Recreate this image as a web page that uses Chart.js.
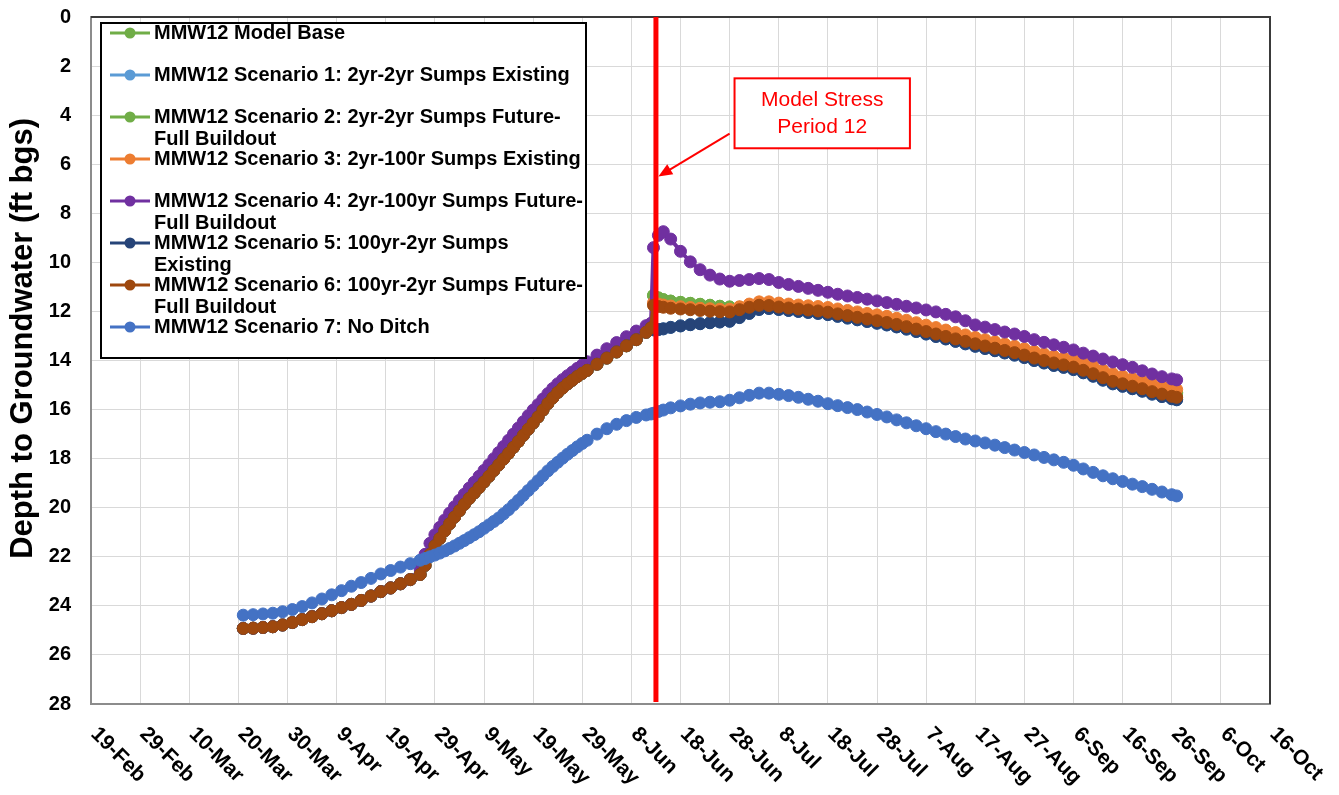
<!DOCTYPE html>
<html>
<head>
<meta charset="utf-8">
<title>MMW12 Depth to Groundwater</title>
<script src="https://cdn.jsdelivr.net/npm/chart.js@4/dist/chart.umd.min.js"></script>
<style>
  html, body { margin: 0; padding: 0; background: #fff; }
  canvas { display: block; }
</style>
</head>
<body>
<canvas id="chart" width="1339" height="795"></canvas>
<script>
// x values are days after 19-Feb (2020, leap year)
const xTickLabels = ['19-Feb', '29-Feb', '10-Mar', '20-Mar', '30-Mar', '9-Apr', '19-Apr', '29-Apr',
  '9-May', '19-May', '29-May', '8-Jun', '18-Jun', '28-Jun', '8-Jul', '18-Jul', '28-Jul', '7-Aug',
  '17-Aug', '27-Aug', '6-Sep', '16-Sep', '26-Sep', '6-Oct', '16-Oct'];
const yTitle = 'Depth to Groundwater (ft bgs)';

const seriesNames = [
  ['MMW12 Model Base'],
  ['MMW12 Scenario 1: 2yr-2yr Sumps Existing'],
  ['MMW12 Scenario 2: 2yr-2yr Sumps Future-', 'Full Buildout'],
  ['MMW12 Scenario 3: 2yr-100r Sumps Existing'],
  ['MMW12 Scenario 4: 2yr-100yr Sumps Future-', 'Full Buildout'],
  ['MMW12 Scenario 5: 100yr-2yr Sumps', 'Existing'],
  ['MMW12 Scenario 6: 100yr-2yr Sumps Future-', 'Full Buildout'],
  ['MMW12 Scenario 7: No Ditch']
];
const seriesColors = ['#70AD47', '#5B9BD5', '#70AD47', '#ED7D31', '#7030A0', '#264478', '#9E480E', '#4472C4'];

// before stress period 12 (21-Mar .. 12-Jun)
const earlyDays = [31, 33, 35, 37, 39, 41, 43, 45, 47, 49, 51, 53, 55, 57, 59, 61, 63, 65, 67,
  68, 69, 70, 71, 72, 73, 74, 75, 76, 77, 78, 79, 80, 81, 82, 83, 84, 85, 86, 87, 88, 89, 90, 91, 92,
  93, 94, 95, 96, 97, 98, 99, 100, 101, 103, 105, 107, 109, 111, 113, 114];
// base, scenarios 1,2,3,5,6 share this part
const earlyShared = [24.92, 24.91, 24.88, 24.85, 24.78, 24.68, 24.56, 24.44, 24.32, 24.2, 24.07, 23.94,
  23.78, 23.6, 23.42, 23.27, 23.1, 22.93, 22.72,
  22.35, 21.9, 21.55, 21.25, 20.94, 20.65, 20.38, 20.12, 19.86, 19.62, 19.4, 19.18, 18.95, 18.72, 18.48,
  18.25, 18.01, 17.78, 17.54, 17.3, 17.05, 16.8, 16.55, 16.3, 16.02, 15.75, 15.52, 15.3, 15.12, 14.95,
  14.8, 14.65, 14.52,
  14.4, 14.15, 13.9, 13.65, 13.4, 13.15, 12.85, 12.67];
const earlyS4 = [24.92, 24.91, 24.88, 24.85, 24.78, 24.68, 24.56, 24.44, 24.32, 24.2, 24.07, 23.94,
  23.78, 23.6, 23.42, 23.27, 23.1, 22.93, 22.5,
  21.9, 21.45, 21.1, 20.8, 20.5, 20.22, 19.96, 19.7, 19.45, 19.2, 18.96, 18.72, 18.48, 18.25, 18.0,
  17.75, 17.5, 17.25, 17.0, 16.75, 16.5, 16.25, 16.02, 15.8, 15.57, 15.35, 15.14, 14.95, 14.78, 14.62,
  14.47, 14.32, 14.18,
  14.05, 13.78, 13.52, 13.27, 13.03, 12.8, 12.58, 12.48];
const earlyS7 = [24.38, 24.36, 24.33, 24.3, 24.24, 24.15, 24.03, 23.88, 23.72, 23.55, 23.38, 23.2,
  23.05, 22.88, 22.7, 22.56, 22.42, 22.28, 22.14,
  22.07, 22.0, 21.93, 21.85, 21.76, 21.66, 21.56, 21.45, 21.34, 21.22, 21.1, 20.98, 20.84, 20.7, 20.56,
  20.42, 20.25, 20.08, 19.89, 19.7, 19.5, 19.3, 19.1, 18.9, 18.7, 18.5, 18.32, 18.15, 17.98, 17.82,
  17.67, 17.52, 17.38,
  17.25, 17.0, 16.78, 16.6, 16.45, 16.32, 16.22, 16.18];

// after stress period 12 starts (12-Jun .. 27-Sep)
const lateDays = [114.5, 115.5, 116.5, 118, 120, 122, 124, 126, 128, 130, 132, 134, 136, 138, 140, 142,
  144, 146, 148, 150, 152, 154, 156, 158, 160, 162, 164, 166, 168, 170, 172, 174, 176, 178, 180, 182,
  184, 186, 188, 190, 192, 194, 196, 198, 200, 202, 204, 206, 208, 210, 212, 214, 216, 218, 220, 221];
// base and scenario 2 plot on top of each other
const lateGreen = [11.35, 11.45, 11.52, 11.58, 11.63, 11.67, 11.71, 11.75, 11.79, 11.82, 11.83, 11.76,
  11.68, 11.68, 11.74, 11.78, 11.82, 11.85, 11.88, 11.93, 12.0, 12.06, 12.12, 12.18, 12.25, 12.31, 12.39,
  12.47, 12.57, 12.67, 12.77, 12.87, 12.97, 13.07, 13.17, 13.26, 13.35, 13.44, 13.53, 13.63, 13.75, 13.85,
  13.95, 14.02, 14.1, 14.23, 14.37, 14.53, 14.67, 14.77, 14.87, 14.97, 15.09, 15.19, 15.28, 15.32];
const lateS3 = [11.65, 11.7, 11.74, 11.78, 11.81, 11.84, 11.87, 11.89, 11.91, 11.91, 11.81, 11.7, 11.61,
  11.61, 11.66, 11.7, 11.74, 11.77, 11.8, 11.84, 11.9, 11.96, 12.02, 12.08, 12.14, 12.2, 12.28, 12.36,
  12.46, 12.56, 12.66, 12.76, 12.86, 12.96, 13.06, 13.15, 13.24, 13.33, 13.42, 13.52, 13.63, 13.73, 13.83,
  13.9, 13.98, 14.1, 14.24, 14.4, 14.54, 14.64, 14.74, 14.84, 14.95, 15.05, 15.14, 15.18];
const lateS4 = [9.4, 8.9, 8.75, 9.05, 9.55, 9.98, 10.3, 10.52, 10.68, 10.77, 10.74, 10.7, 10.66, 10.7,
  10.82, 10.9, 10.98, 11.06, 11.14, 11.22, 11.3, 11.37, 11.43, 11.5, 11.57, 11.64, 11.71, 11.79, 11.86,
  11.94, 12.02, 12.12, 12.22, 12.38, 12.55, 12.64, 12.74, 12.84, 12.92, 13.02, 13.15, 13.26, 13.36, 13.46,
  13.57, 13.7, 13.82, 13.94, 14.06, 14.17, 14.28, 14.42, 14.55, 14.66, 14.75, 14.79];
// scenario 1 is hidden under scenario 5
const lateS5 = [12.75, 12.74, 12.71, 12.65, 12.59, 12.54, 12.5, 12.46, 12.43, 12.4, 12.25, 12.08, 11.92,
  11.88, 11.92, 11.96, 12.0, 12.04, 12.08, 12.13, 12.2, 12.27, 12.34, 12.41, 12.48, 12.55, 12.63, 12.72,
  12.82, 12.92, 13.02, 13.12, 13.22, 13.32, 13.42, 13.51, 13.6, 13.69, 13.78, 13.88, 14.0, 14.1, 14.2,
  14.28, 14.37, 14.5, 14.64, 14.8, 14.95, 15.05, 15.15, 15.25, 15.37, 15.47, 15.56, 15.6];
const lateS6 = [11.75, 11.8, 11.83, 11.87, 11.9, 11.93, 11.96, 11.99, 12.01, 12.02, 11.93, 11.83, 11.75,
  11.76, 11.82, 11.86, 11.9, 11.94, 11.98, 12.03, 12.1, 12.17, 12.24, 12.31, 12.38, 12.45, 12.53, 12.62,
  12.72, 12.82, 12.92, 13.02, 13.12, 13.22, 13.32, 13.41, 13.5, 13.59, 13.68, 13.78, 13.9, 14.0, 14.1,
  14.18, 14.27, 14.4, 14.54, 14.7, 14.85, 14.95, 15.05, 15.15, 15.27, 15.37, 15.46, 15.5];
const lateS7 = [16.15, 16.08, 16.02, 15.93, 15.85, 15.78, 15.73, 15.7, 15.68, 15.62, 15.52, 15.42, 15.33,
  15.33, 15.38, 15.43, 15.5, 15.58, 15.66, 15.76, 15.84, 15.92, 16.0, 16.1, 16.2, 16.3, 16.42, 16.54,
  16.66, 16.78, 16.9, 17.0, 17.1, 17.2, 17.28, 17.36, 17.45, 17.55, 17.65, 17.75, 17.85, 17.95, 18.05,
  18.15, 18.27, 18.42, 18.56, 18.7, 18.82, 18.93, 19.04, 19.14, 19.25, 19.36, 19.47, 19.52];

const stressPeriodDay = 115;
const callout = { leftDay: 131, rightDay: 166.7, topDepth: 2.5, bottomDepth: 5.35,
  arrowFrom: [130, 4.75], arrowTo: [115.5, 6.5], lines: ['Model Stress', 'Period 12'] };

const FONT = "'Liberation Sans', Arial, sans-serif";
const allDays = earlyDays.concat(lateDays);
const seriesValues = [
  earlyShared.concat(lateGreen),
  earlyShared.concat(lateS5),
  earlyShared.concat(lateGreen),
  earlyShared.concat(lateS3),
  earlyS4.concat(lateS4),
  earlyShared.concat(lateS5),
  earlyShared.concat(lateS6),
  earlyS7.concat(lateS7)
];

const datasets = seriesValues.map((vals, i) => ({
  label: seriesNames[i].join(' ').replace('- ', '-'),
  data: allDays.map((d, j) => ({ x: d, y: vals[j] })),
  borderColor: seriesColors[i],
  backgroundColor: seriesColors[i],
  pointBackgroundColor: seriesColors[i],
  pointBorderColor: seriesColors[i],
  borderWidth: 4,
  pointRadius: 6,
  pointBorderWidth: 1,
  tension: 0,
  order: seriesNames.length - 1 - i   // later series on top, like Excel
}));

const overlayPlugin = {
  id: 'overlay',
  afterDraw(chart) {
    const { ctx, chartArea: a, scales: { x, y } } = chart;
    ctx.save();

    // plot frame top/right
    ctx.strokeStyle = '#3a3a3a';
    ctx.lineWidth = 2;
    ctx.beginPath();
    ctx.moveTo(a.left, a.top);
    ctx.lineTo(a.right, a.top);
    ctx.lineTo(a.right, a.bottom);
    ctx.stroke();

    // y axis title
    ctx.fillStyle = '#000';
    ctx.font = 'bold 31px ' + FONT;
    ctx.textAlign = 'center';
    ctx.textBaseline = 'middle';
    ctx.save();
    ctx.translate(23, y.getPixelForValue(13.1));
    ctx.rotate(-Math.PI / 2);
    ctx.fillText(yTitle, 0, 0);
    ctx.restore();

    // rotated date labels
    ctx.font = 'bold 21px ' + FONT;
    ctx.textAlign = 'left';
    x.ticks.forEach((t, i) => {
      const px = x.getPixelForValue(t.value);
      ctx.save();
      ctx.translate(px + 3, a.bottom + 27);
      ctx.rotate(Math.PI / 4);
      ctx.fillText(xTickLabels[i] || '', 0, 0);
      ctx.restore();
    });

    // stress period line
    const sx = x.getPixelForValue(stressPeriodDay);
    ctx.strokeStyle = '#FF0000';
    ctx.lineWidth = 5;
    ctx.beginPath();
    ctx.moveTo(sx, a.top);
    ctx.lineTo(sx, a.bottom - 2);
    ctx.stroke();

    // callout
    const bl = x.getPixelForValue(callout.leftDay), br = x.getPixelForValue(callout.rightDay);
    const bt = y.getPixelForValue(callout.topDepth), bb = y.getPixelForValue(callout.bottomDepth);
    ctx.fillStyle = '#fff';
    ctx.fillRect(bl, bt, br - bl, bb - bt);
    ctx.lineWidth = 2;
    ctx.strokeRect(bl, bt, br - bl, bb - bt);
    ctx.fillStyle = '#FF0000';
    ctx.font = '21px ' + FONT;
    ctx.textAlign = 'center';
    const cy = (bt + bb) / 2;
    ctx.fillText(callout.lines[0], (bl + br) / 2, cy - 13);
    ctx.fillText(callout.lines[1], (bl + br) / 2, cy + 14);
    const ax0 = x.getPixelForValue(callout.arrowFrom[0]), ay0 = y.getPixelForValue(callout.arrowFrom[1]);
    const ax1 = x.getPixelForValue(callout.arrowTo[0]), ay1 = y.getPixelForValue(callout.arrowTo[1]);
    const ang = Math.atan2(ay1 - ay0, ax1 - ax0);
    ctx.lineWidth = 2;
    ctx.beginPath();
    ctx.moveTo(ax0, ay0);
    ctx.lineTo(ax1 - 10 * Math.cos(ang), ay1 - 10 * Math.sin(ang));
    ctx.stroke();
    ctx.beginPath();
    ctx.moveTo(ax1, ay1);
    ctx.lineTo(ax1 - 15 * Math.cos(ang - 0.4), ay1 - 15 * Math.sin(ang - 0.4));
    ctx.lineTo(ax1 - 15 * Math.cos(ang + 0.4), ay1 - 15 * Math.sin(ang + 0.4));
    ctx.closePath();
    ctx.fill();

    // legend box
    const lx = a.left + 10, ly = a.top + 6, lw = 485, lh = 335;
    ctx.fillStyle = '#fff';
    ctx.fillRect(lx, ly, lw, lh);
    ctx.strokeStyle = '#000';
    ctx.lineWidth = 2;
    ctx.strokeRect(lx, ly, lw, lh);
    ctx.font = 'bold 20px ' + FONT;
    ctx.textAlign = 'left';
    ctx.textBaseline = 'middle';
    chart.data.datasets.forEach((ds, i) => {
      const ry = ly + 10 + i * 42;
      ctx.strokeStyle = ds.borderColor;
      ctx.lineWidth = 3;
      ctx.beginPath();
      ctx.moveTo(lx + 9, ry);
      ctx.lineTo(lx + 49, ry);
      ctx.stroke();
      ctx.fillStyle = ds.borderColor;
      ctx.beginPath();
      ctx.arc(lx + 29, ry, 5.5, 0, Math.PI * 2);
      ctx.fill();
      ctx.fillStyle = '#000';
      seriesNames[i].forEach((line, k) => ctx.fillText(line, lx + 53, ry + k * 22));
    });
    ctx.restore();
  }
};

new Chart(document.getElementById('chart'), {
  type: 'line',
  data: { datasets },
  options: {
    responsive: false,
    animation: false,
    devicePixelRatio: 1,
    layout: { padding: { top: 17, right: 69, left: 0, bottom: 0 } },
    plugins: { legend: { display: false }, tooltip: { enabled: false } },
    scales: {
      x: {
        type: 'linear',
        min: 0,
        max: 240,
        afterFit: s => { s.height = 91; s.paddingLeft = 0; s.paddingRight = 0; },
        ticks: { stepSize: 10, display: false },
        grid: { color: '#d9d9d9', lineWidth: 1, drawTicks: false },
        border: { color: '#8c8c8c', width: 2 }
      },
      y: {
        reverse: true,
        min: 0,
        max: 28,
        afterFit: s => { s.width = 91; s.paddingTop = 0; s.paddingBottom = 0; },
        ticks: { stepSize: 2, padding: 20, color: '#000', font: { family: FONT, size: 20, weight: 'bold' } },
        grid: { color: '#d9d9d9', lineWidth: 1, drawTicks: false },
        border: { color: '#8c8c8c', width: 2 }
      }
    }
  },
  plugins: [overlayPlugin]
});
</script>
</body>
</html>
